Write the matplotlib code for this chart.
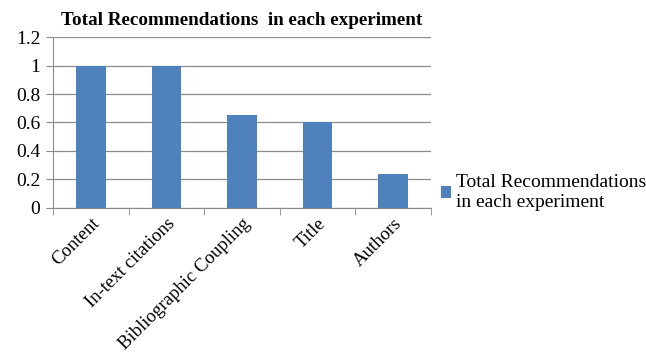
import matplotlib.pyplot as plt
from matplotlib.ticker import FixedLocator

plt.rcParams['font.family'] = ['Liberation Serif', 'DejaVu Serif']

# data
categories = ['Content', 'In-text citations', 'Bibliographic Coupling', 'Title', 'Authors']
values = [1.0, 1.0, 0.65, 0.6, 0.24]
series_name = 'Total Recommendations\nin each experiment'

fig = plt.figure(figsize=(6.46, 3.64), dpi=100)
ax = fig.add_axes([0.082, 0.429, 0.585, 0.469])

x = range(len(categories))
ax.bar(x, values, width=0.39, color='#4F81BD', label=series_name, zorder=3)

ax.set_xlim(-0.5, len(categories) - 0.5)
ax.set_ylim(0, 1.2)
ax.set_yticks([0, 0.2, 0.4, 0.6, 0.8, 1, 1.2])
ax.set_yticklabels(['0', '0.2', '0.4', '0.6', '0.8', '1', '1.2'], fontsize=14)
ax.yaxis.grid(True, color='#8c8c8c', linewidth=0.9, zorder=0)

ax.set_xticks(list(x))
ax.set_xticklabels(categories, fontsize=13.5, rotation=45, ha='right',
                   rotation_mode='anchor')
ax.tick_params(axis='x', length=0, pad=5)
ax.xaxis.set_minor_locator(FixedLocator([i - 0.5 for i in range(len(categories) + 1)]))
ax.tick_params(axis='x', which='minor', length=5, color='#8c8c8c')
ax.tick_params(axis='y', length=5, color='#8c8c8c', pad=4)

for s in ['top', 'right']:
    ax.spines[s].set_visible(False)
for s in ['left', 'bottom']:
    ax.spines[s].set_color('#8c8c8c')

ax.set_title('Total Recommendations  in each experiment', fontsize=13.8,
             fontweight='bold', pad=9)

ax.legend(loc='center left', bbox_to_anchor=(1.0, 0.09), frameon=False,
          fontsize=14, handlelength=0.55, handleheight=0.55, handletextpad=0.25,
          borderaxespad=0.1, labelspacing=0.2)

fig.savefig('out.png', dpi=100)
